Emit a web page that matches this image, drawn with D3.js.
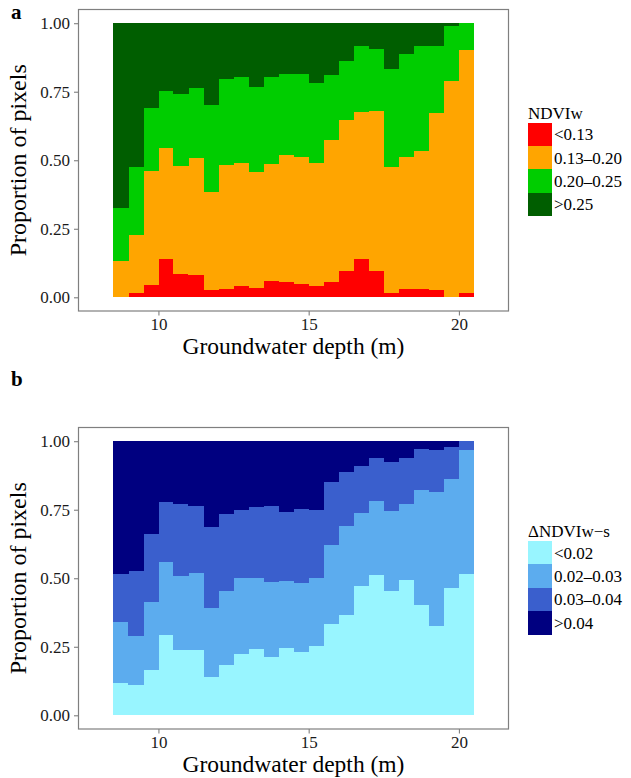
<!DOCTYPE html>
<html>
<head>
<meta charset="utf-8">
<script src="https://cdn.jsdelivr.net/npm/d3@7"></script>
<style>
  html, body { margin: 0; padding: 0; background: #fff; }
  svg { display: block; font-family: "Liberation Serif", "Times New Roman", serif; }
</style>
</head>
<body>
<svg id="chart" width="631" height="778"></svg>
<script>
// Groundwater depth bins (lower edge, m); each bin is 0.5 m wide
const binStart = [8.5, 9, 9.5, 10, 10.5, 11, 11.5, 12, 12.5, 13, 13.5, 14,
                  14.5, 15, 15.5, 16, 16.5, 17, 17.5, 18, 18.5, 19, 19.5, 20];
const binWidth = 0.5;

// Panel a: NDVIw classes, proportion of pixels per bin
const ndviClasses = ["<0.13", "0.13\u20130.20", "0.20\u20130.25", ">0.25"];
const ndviLow   = [0, .014, .046, .141, .086, .083, .028, .032, .043, .035, .061, .057,
                   .050, .043, .054, .097, .141, .097, .017, .032, .032, .028, 0, .014];
const ndviMid   = [.134, .214, .416, .405, .394, .426, .357, .452, .448, .423, .426, .463,
                   .463, .448, .521, .551, .536, .583, .459, .481, .503, .645, .790, .889];
const ndviHigh  = [.193, .248, .229, .207, .262, .255, .317, .313, .313, .310, .317, .295,
                   .302, .291, .237, .215, .240, .226, .357, .375, .382, .244, .200, .097];
const ndviTop   = [.673, .524, .309, .247, .258, .236, .298, .203, .196, .232, .196, .185,
                   .185, .218, .188, .137, .083, .094, .167, .112, .083, .083, .010, 0];

// Panel b: ΔNDVIw-s classes, proportion of pixels per bin
const dClasses = ["<0.02", "0.02\u20130.03", "0.03\u20130.04", ">0.04"];
const dLow   = [.119, .112, .166, .294, .239, .239, .141, .185, .225, .243, .214, .246,
                .232, .254, .334, .367, .472, .512, .454, .494, .403, .327, .465, .516];
const dMid   = [.222, .178, .248, .266, .270, .280, .251, .269, .276, .258, .273, .244,
                .251, .247, .287, .324, .266, .270, .291, .277, .419, .487, .397, .451];
const dHigh  = [.175, .237, .247, .218, .262, .244, .295, .280, .248, .259, .276, .252,
                .269, .248, .230, .196, .171, .156, .179, .167, .149, .153, .116, .033];
const dTop   = [.484, .473, .339, .222, .229, .237, .313, .266, .251, .240, .237, .258,
                .248, .251, .149, .113, .091, .062, .076, .062, .029, .033, .022, 0];

const xTicks = [10, 15, 20];
const yTicks = [0, 0.25, 0.5, 0.75, 1];

const ndviColors = ["#ff0000", "#ffa500", "#00cd00", "#005e00"];
const dColors = ["#98f5ff", "#5cacee", "#3a5fcd", "#000080"];

const svg = d3.select("#chart");

function drawPanel(opts) {
  const { top, bottom, letter, letterY, classes, series, colors, legendTitle } = opts;
  const left = 78.5, right = 508.5;

  const x = d3.scaleLinear().domain([7.34, 21.65]).range([left, right]);
  const y = d3.scaleLinear().domain([-0.05, 1.05]).range([bottom, top]);

  const rows = binStart.map((b, i) => {
    const r = { start: b };
    classes.forEach((c, k) => { r[c] = series[k][i]; });
    return r;
  });
  const stacked = d3.stack().keys(classes)(rows);

  const g = svg.append("g");

  // stacked bars
  g.selectAll("g.layer")
    .data(stacked)
    .join("g")
    .attr("class", "layer")
    .attr("fill", (d, i) => colors[i])
    .selectAll("rect")
    .data(d => d)
    .join("rect")
    .attr("shape-rendering", "crispEdges")
    .attr("x", d => x(d.data.start))
    .attr("width", d => x(d.data.start + binWidth) - x(d.data.start) + 0.3)
    .attr("y", d => y(d[1]))
    .attr("height", d => Math.max(0, y(d[0]) - y(d[1])));

  // axes
  const yAxis = d3.axisLeft(y).tickValues(yTicks).tickFormat(d3.format(".2f"))
    .tickSize(4.5).tickPadding(4);
  const xAxis = d3.axisBottom(x).tickValues(xTicks).tickFormat(d3.format("d"))
    .tickSize(4.5).tickPadding(2.5);

  const ya = g.append("g").attr("transform", `translate(${left},0)`).call(yAxis);
  const xa = g.append("g").attr("transform", `translate(0,${bottom})`).call(xAxis);
  [ya, xa].forEach(a => {
    a.select(".domain").remove();
    a.selectAll(".tick line").attr("stroke", "#7f7f7f").attr("stroke-width", 1.1);
    a.selectAll(".tick text").attr("fill", "#1a1a1a").attr("font-size", 17)
      .attr("font-family", "Liberation Serif, serif");
  });

  // panel border
  g.append("rect")
    .attr("x", left).attr("y", top)
    .attr("width", right - left).attr("height", bottom - top)
    .attr("fill", "none").attr("stroke", "#7f7f7f").attr("stroke-width", 1.2);

  // axis titles
  g.append("text")
    .attr("x", (left + right) / 2).attr("y", bottom + 43)
    .attr("text-anchor", "middle").attr("font-size", 23.5).attr("fill", "#000")
    .text("Groundwater depth (m)");
  g.append("text")
    .attr("transform", `translate(26,${(top + bottom) / 2}) rotate(-90)`)
    .attr("text-anchor", "middle").attr("font-size", 24).attr("fill", "#000")
    .text("Proportion of pixels");

  // panel letter
  svg.append("text")
    .attr("x", 11).attr("y", letterY)
    .attr("font-size", 21).attr("font-weight", "bold").attr("fill", "#000")
    .text(letter);

  // legend
  const lg = g.append("g").attr("transform", `translate(528,${opts.legendY})`);
  lg.append("text").attr("x", 0).attr("y", -4)
    .attr("font-size", 17).attr("fill", "#000").text(legendTitle);
  const keyH = 23.3, keyW = 24;
  classes.forEach((c, k) => {
    lg.append("rect").attr("x", 0).attr("y", k * keyH)
      .attr("width", keyW).attr("height", keyH + 0.3)
      .attr("shape-rendering", "crispEdges")
      .attr("fill", colors[k]);
    lg.append("text").attr("x", keyW + 2).attr("y", k * keyH + keyH / 2)
      .attr("dy", "0.35em").attr("font-size", 17).attr("fill", "#000").text(c);
  });
}

drawPanel({
  top: 9.5, bottom: 311, letter: "a", letterY: 19,
  classes: ndviClasses, series: [ndviLow, ndviMid, ndviHigh, ndviTop],
  colors: ndviColors, legendTitle: "NDVIw", legendY: 122.7
});

drawPanel({
  top: 427.5, bottom: 729, letter: "b", letterY: 386,
  classes: dClasses, series: [dLow, dMid, dHigh, dTop],
  colors: dColors, legendTitle: "\u0394NDVIw\u2212s", legendY: 541
});
</script>
</body>
</html>
